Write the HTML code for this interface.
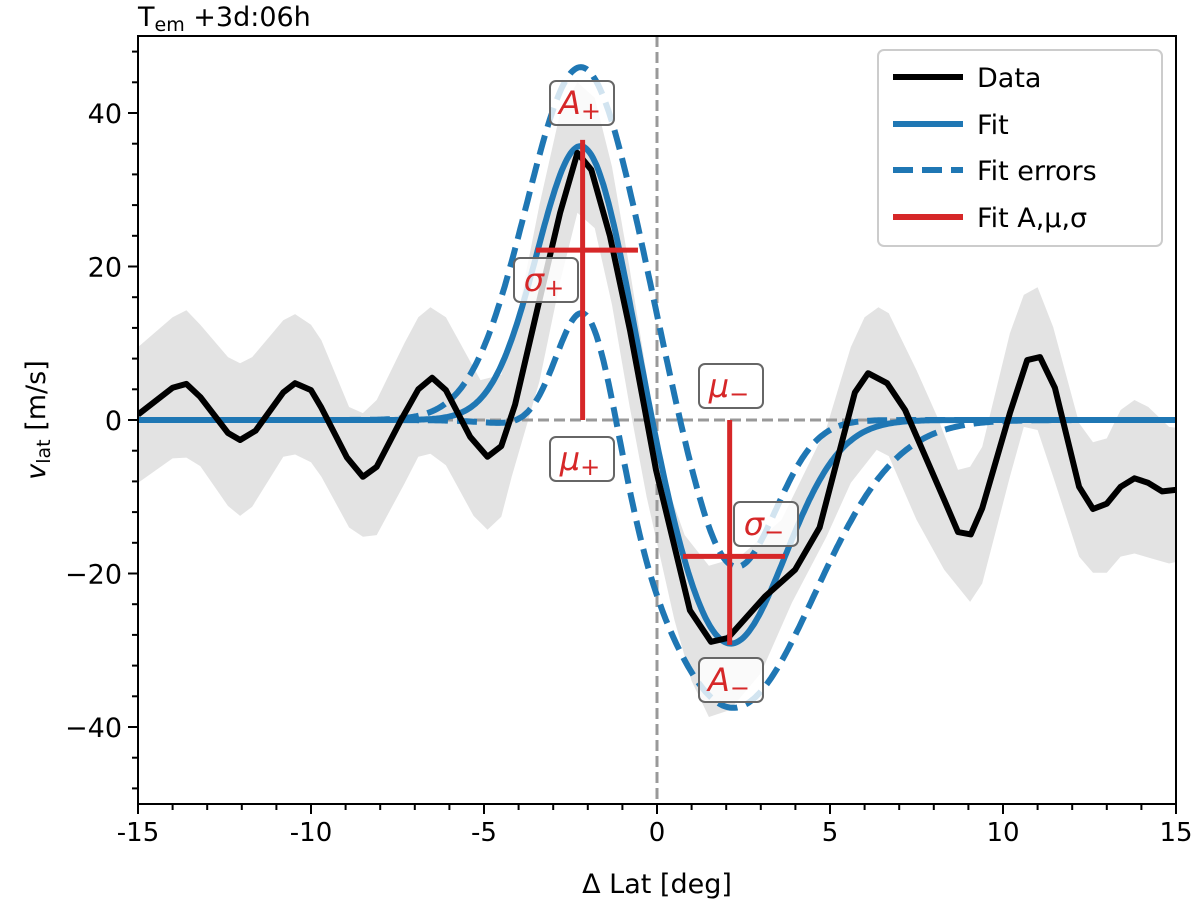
<!DOCTYPE html>
<html><head><meta charset="utf-8"><style>
body{margin:0;background:#fff;}
svg{display:block;font-family:"DejaVu Sans","Liberation Sans",sans-serif;}
</style></head><body>
<svg id="chart" width="1200" height="900" viewBox="0 0 1200 900">
<text x="138" y="26" font-size="27">T<tspan font-size="19" dy="5">em</tspan><tspan dy="-5"> +3d:06h</tspan></text>
<g id="plot"></g>
</svg>
<script>
const dataX=[-15,-14,-13.6,-13.2,-12.4,-12.05,-11.6,-10.8,-10.46,-10,-9.7,-8.96,-8.5,-8.1,-7.4,-6.9,-6.5,-6.1,-5.4,-4.9,-4.5,-4.1,-3.4,-2.8,-2.3,-1.9,-1.36,-0.78,-0.35,-0.03,0.95,1.56,2.05,3.12,3.99,4.7,5.72,6.1,6.65,7.17,8.3,8.7,9.07,9.4,10.2,10.7,11.07,11.5,12.2,12.6,13.0,13.4,13.8,14.2,14.6,15];
const dataY=[0.7,4.2,4.7,3.0,-1.7,-2.6,-1.4,3.6,4.8,3.9,1.6,-4.9,-7.4,-6.1,0,4.0,5.5,3.9,-2.2,-4.8,-3.4,2,15.6,27,34.8,32.6,24,11.7,1.3,-6.5,-24.8,-28.9,-28.4,-23,-19.5,-14,3.6,6.1,4.8,1.3,-10.4,-14.6,-14.9,-11.5,0.9,7.8,8.2,4.2,-8.7,-11.6,-10.9,-8.7,-7.6,-8.2,-9.3,-9.1];
const bandUpX=[-15,-14,-13.6,-13.2,-12.4,-12.05,-11.7,-10.8,-10.46,-10,-9.7,-8.9,-8.5,-8.1,-7.3,-6.9,-6.55,-6.1,-5.1,-4.5,-4.1,-3.4,-2.8,-2.3,-1.8,-1.3,-0.8,-0.3,0,0.3,0.8,1.5,2.4,3.6,4.9,5.6,6.0,6.4,6.7,7.5,8.1,8.7,9.05,9.4,10.2,10.6,11.0,11.45,12.2,12.6,13.0,13.4,13.8,14.2,14.8,15];
const bandUpY=[9.5,13.4,14.3,12.4,8.2,7.4,8.2,13,13.8,12.4,10.4,1.7,0.9,2.6,10,13.4,14.7,13.4,5.2,5.9,12,28,40,44,42,33,20,6,-2,-8.7,-15,-19,-17.8,-13,-1,9.5,13.4,14.7,13.9,6.5,0.4,-6.5,-6.1,-3.5,11.3,16.3,17.3,12.1,-0.4,-2.9,-2.4,1.3,2.6,1.7,-0.9,-1];
const bandLoX=[-15,-14,-13.6,-13.2,-12.4,-12.05,-11.7,-10.8,-10.46,-10,-9.7,-8.9,-8.5,-8.1,-7.3,-6.9,-6.55,-6.1,-5.3,-4.9,-4.5,-4.2,-3.4,-2.8,-2.3,-1.8,-1.3,-0.8,-0.3,0,0.5,1.0,1.5,2.1,3.0,3.9,4.9,5.6,6.35,6.7,7.5,8.3,9.05,9.4,10.2,10.6,11.0,11.45,12.2,12.6,13.0,13.4,13.8,14.8,15];
const bandLoY=[-8.2,-5,-4.9,-6,-11.2,-12.5,-11.3,-4.8,-4.5,-5.5,-7.4,-14,-15.2,-15,-8.3,-4.8,-4.4,-5.9,-12.5,-14.3,-12.6,-7.4,5,18,27,25,15,2,-10,-16,-26,-34,-38.7,-37.8,-33,-23.8,-15.2,-8.2,-3.9,-4.7,-13,-19.5,-23.7,-21.3,-7.4,-0.9,-1.3,-7.4,-17.8,-19.9,-19.9,-17.8,-17.4,-18.7,-18.5];
// Gaussian parameters [A, mu, sigma]
const fitPos=[36.5,-2.15,1.3];
const fitNeg=[-29.3,2.1,1.6];
const errHiPos=[46,-2.2,1.58];
const errHiNeg=[-20,2.2,1.2];
const errLoPos=[21,-2.0,0.85];
const errLoNeg=[-37.5,2.2,2.35];
const xTicks=[-15,-10,-5,0,5,10,15];
const yTicks=[-40,-20,0,20,40];

const L=138,R=1176,T=36,B=804;
const sx=v=>L+(v+15)/30*(R-L);
const sy=v=>420-v*7.675;
const NS='http://www.w3.org/2000/svg';
const svg=document.getElementById('chart');
function mk(tag,attrs,parent){const e=document.createElementNS(NS,tag);for(const k in attrs)e.setAttribute(k,attrs[k]);(parent||svg).appendChild(e);return e;}
const g=(p,x)=>p[0]*Math.exp(-((x-p[1])**2)/(2*p[2]*p[2]));
function curve(p1,p2){let d='';for(let i=0;i<=600;i++){const x=-15+i*0.05;d+=(i?'L':'M')+sx(x).toFixed(1)+','+sy(g(p1,x)+g(p2,x)).toFixed(1);}return d;}
function poly(xs,ys){return xs.map((x,i)=>(i?'L':'M')+sx(x).toFixed(1)+','+sy(ys[i]).toFixed(1)).join('');}

const clip=mk('clipPath',{id:'cp'});mk('rect',{x:L,y:T,width:R-L,height:B-T},clip);
const band=mk('path',{d:poly(bandUpX,bandUpY)+poly(bandLoX.slice().reverse(),bandLoY.slice().reverse()).replace('M','L')+'Z',fill:'#e3e3e3','clip-path':'url(#cp)'});


const zx=mk('line',{x1:sx(0),x2:sx(0),y1:T,y2:B,stroke:'#999','stroke-width':3,'stroke-dasharray':'11,5'});


const zy=mk('line',{x1:L,x2:R,y1:sy(0),y2:sy(0),stroke:'#999','stroke-width':3,'stroke-dasharray':'11,5'});


const e1=mk('path',{d:curve(errHiPos,errHiNeg),fill:'none',stroke:'#1f77b4','stroke-width':6,'stroke-dasharray':'20,9','clip-path':'url(#cp)'});


const e2=mk('path',{d:curve(errLoPos,errLoNeg),fill:'none',stroke:'#1f77b4','stroke-width':6,'stroke-dasharray':'20,9','clip-path':'url(#cp)'});


const fl=mk('path',{d:curve(fitPos,fitNeg),fill:'none',stroke:'#1f77b4','stroke-width':6,'clip-path':'url(#cp)'});


const dl=mk('path',{d:poly(dataX,dataY),fill:'none',stroke:'#000','stroke-width':6,'stroke-linejoin':'round','clip-path':'url(#cp)'});


[[fitPos,'pos'],[fitNeg,'neg']].forEach(([p,n])=>{
  const v=mk('line',{x1:sx(p[1]),x2:sx(p[1]),y1:sy(0),y2:sy(p[0]),stroke:'#d62728','stroke-width':5});
  
  
  const h=mk('line',{x1:sx(p[1]-1.35),x2:sx(p[1]+1.6),y1:sy(p[0]*0.6065),y2:sy(p[0]*0.6065),stroke:'#d62728','stroke-width':5});
  
  
});
function lbl(cx,cy,main,sub,name){
  const gg=mk('g',{});
  
  
  mk('rect',{x:cx-32,y:cy-22,width:64,height:44,rx:6,fill:'rgba(255,255,255,0.8)',stroke:'#666','stroke-width':2},gg);
  const t=mk('text',{x:cx-2,y:cy+11,'text-anchor':'middle','font-size':32,fill:'#d62728','font-style':'italic'},gg);
  t.textContent=main;
  const s=mk('tspan',{'font-size':24,'font-style':'normal',dy:5},t);s.textContent=sub;
}
lbl(582,103,'A','+','label-a-plus');
lbl(546,280,'σ','+','label-sigma-plus');
lbl(582,459,'μ','+','label-mu-plus');
lbl(731,386,'μ','−','label-mu-minus');
lbl(766,524,'σ','−','label-sigma-minus');
lbl(731,680,'A','−','label-a-minus');
const fr=mk('rect',{x:L,y:T,width:R-L,height:B-T,fill:'none',stroke:'#000','stroke-width':2});


for(let v=-15;v<=15;v++){const major=v%5===0;mk('line',{x1:sx(v),x2:sx(v),y1:B,y2:B+(major?10:6),stroke:'#000','stroke-width':2});}
xTicks.forEach(v=>{const t=mk('text',{x:sx(v),y:B+37,'text-anchor':'middle','font-size':26});t.textContent=String(v);

});
for(let v=-48;v<=48;v+=4){const major=v%20===0;mk('line',{x1:L,x2:L-(major?10:6),y1:sy(v),y2:sy(v),stroke:'#000','stroke-width':2});}
yTicks.forEach(v=>{const t=mk('text',{x:L-16,y:sy(v)+10,'text-anchor':'end','font-size':27});t.textContent=(v<0?'−':'')+Math.abs(v);

});
const xt=mk('text',{x:(L+R)/2,y:893,'text-anchor':'middle','font-size':27});xt.textContent='Δ Lat [deg]';


const yt=mk('text',{transform:'translate(45,420) rotate(-90)','text-anchor':'middle','font-size':27});
yt.innerHTML='<tspan font-style="italic">v</tspan><tspan font-size="19" dy="5">lat</tspan><tspan dy="-5"> [m/s]</tspan>';


const lg=mk('g',{});


mk('rect',{x:878,y:50,width:284,height:196,rx:6,fill:'rgba(255,255,255,0.8)',stroke:'#ccc','stroke-width':2},lg);
[['Data','#000',null,77],['Fit','#1f77b4',null,124],['Fit errors','#1f77b4','20,9',170],['Fit A,μ,σ','#d62728',null,217]].forEach(([n,c,d,y])=>{
  const a={x1:893,x2:963,y1:y,y2:y,stroke:c,'stroke-width':6};if(d)a['stroke-dasharray']=d;mk('line',a,lg);
  const t=mk('text',{x:977,y:y+10,'font-size':27},lg);t.textContent=n;
  
  
});
</script>
</body></html>
